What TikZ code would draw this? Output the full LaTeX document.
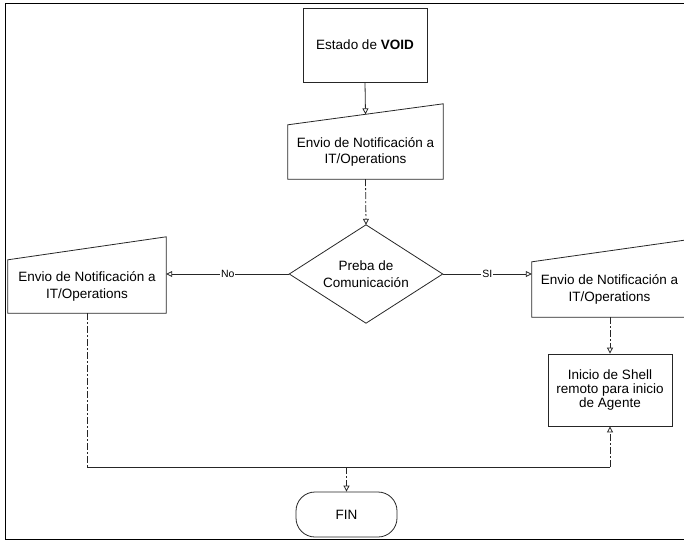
\documentclass[tikz,border=0pt]{standalone}
\usepackage{fontspec}
\setmainfont{Liberation Sans}
\usetikzlibrary{arrows.meta,calc}

\tikzset{
  ln/.style={line width=0.8pt, draw=black!85},
  brk/.style={ln, dash pattern=on 7pt off 2pt on 2pt off 2pt},
  tip/.style={-{Triangle[open,length=6pt,width=6pt]}},
  txt/.style={font=\fontsize{13.5}{16.5}\selectfont, align=center, inner sep=0pt},
  frameline/.style={line width=1pt, draw=black},
  box/.style={txt, draw=none, minimum width=#1},
  lbl/.style={font=\fontsize{10.5}{12}\selectfont, fill=white, inner sep=1pt},
}

\begin{document}
\begin{tikzpicture}[x=1pt,y=-1pt]
\useasboundingbox (0,0) rectangle (684,541);

% outer page frame (open to the right)
\draw[frameline] (684,3) -- (5,3) -- (5,539) -- (684,539);

% start box
\node[box=124pt, minimum height=74pt, draw, ln] (void) at (365,45)
  {Estado de \textbf{VOID}};

% manual-input blocks: node = rectangular part, slanted top drawn above it
\node[box=155pt, minimum height=54pt] (m1) at (365.5,152) {Envio de Notificación a\\IT/Operations};
\draw[ln] (m1.north west) -- (m1.south west) -- (m1.south east) -- ([yshift=21pt]m1.north east) -- cycle;
\coordinate (m1top) at ($(m1.north west)!0.5!([yshift=21pt]m1.north east)$);

\node[box=158pt, minimum height=53pt] (nl) at (87,286.5) {Envio de Notificación a\\IT/Operations};
\draw[ln] (nl.north west) -- (nl.south west) -- (nl.south east) -- ([yshift=23pt]nl.north east) -- cycle;

\node[box=155pt, minimum height=55pt] (nr) at (609.5,289.5) {Envio de Notificación a\\IT/Operations};
\draw[ln] (nr.north west) -- (nr.south west) -- (nr.south east) -- ([yshift=22pt]nr.north east) -- cycle;

% decision
\node[box=153pt, minimum height=98pt] (dec) at (366,274) {Preba de\\Comunicación};
\draw[ln] (dec.north) -- (dec.east) -- (dec.south) -- (dec.west) -- cycle;

% remote shell step
\node[box=124pt, minimum height=72pt, draw, ln,
      font=\fontsize{13.5}{14}\selectfont] (ini) at (610,390)
  {Inicio de Shell\\remoto para inicio\\de Agente};

% terminator
\node[box=101pt, minimum height=45pt, draw, ln, rounded corners=19pt] (fin) at (346.5,514.5) {FIN};

% junction points of the merge line
\coordinate (jl) at (nl.south |- 0,467);
\coordinate (jr) at (ini.south |- 0,467);
\coordinate (jm) at (fin.north |- 0,467);

% connectors
\draw[ln,tip] (void.south) -- (m1top);
\draw[brk,tip] (m1.south) -- (dec.north);
\draw[ln,tip] (dec.west) -- node[lbl, pos=0.5]{No} (dec.west -| nl.east);
\draw[ln,tip] (dec.east) -- node[lbl, pos=0.5]{SI} (dec.east -| nr.west);
\draw[brk,tip] (nr.south -| ini.north) -- (ini.north);
\draw[brk] (nl.south) -- (jl);
\draw[ln] (jl) -- (jr);
\draw[brk,tip] (jr) -- (ini.south);
\draw[brk,tip] (jm) -- (fin.north);
\end{tikzpicture}
\end{document}
